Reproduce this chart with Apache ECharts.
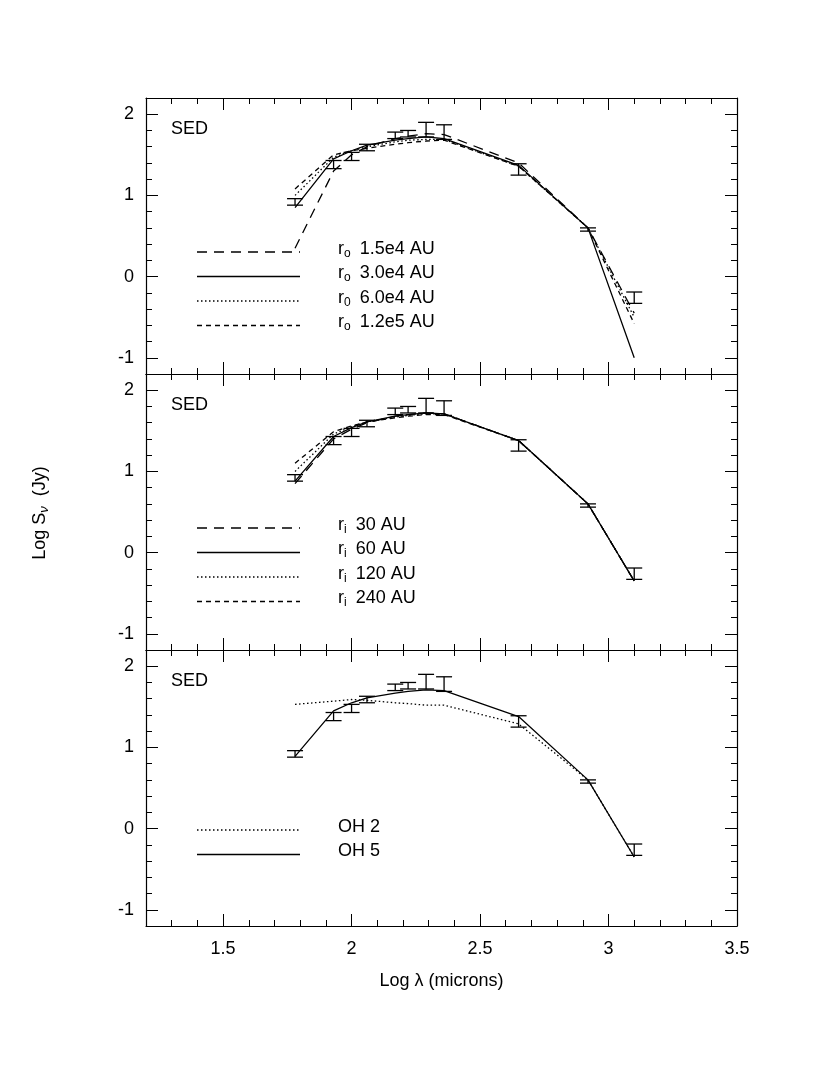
<!DOCTYPE html><html><head><meta charset="utf-8">
<script src="https://cdn.jsdelivr.net/npm/echarts@6/dist/echarts.min.js"></script>
<style>html,body{margin:0;background:#fff}#c{width:830px;height:1075px}</style></head><body><div id="c"></div>
<script>
const wl=[1.78,1.93,2.0,2.06,2.17,2.22,2.29,2.36,2.65,2.92,3.10];
const obs=[0.92,1.38,1.48,1.59,1.74,1.76,1.81,1.78,1.32,0.58,-0.26];
const err=[0.04,0.05,0.05,0.04,0.04,0.04,0.09,0.09,0.07,0.02,0.07];
const ro15=[0.35,1.30,1.50,1.60,1.70,1.73,1.76,1.75,1.40,0.60,-0.45];
const ro30=[0.85,1.45,1.55,1.62,1.68,1.70,1.72,1.70,1.37,0.60,-1.00];
const ro60=[1.00,1.47,1.55,1.60,1.66,1.68,1.69,1.69,1.36,0.60,-0.50];
const ro120=[1.08,1.50,1.55,1.58,1.63,1.65,1.67,1.68,1.36,0.60,-0.58];
const ri30=[0.85,1.40,1.52,1.60,1.68,1.70,1.72,1.71,1.38,0.60,-0.35];
const ri60=[0.88,1.43,1.54,1.61,1.68,1.70,1.72,1.71,1.38,0.60,-0.35];
const ri120=[1.00,1.46,1.55,1.61,1.67,1.69,1.71,1.71,1.38,0.60,-0.35];
const ri240=[1.10,1.49,1.56,1.61,1.66,1.68,1.70,1.70,1.38,0.60,-0.35];
const oh2=[1.53,1.57,1.59,1.58,1.55,1.54,1.52,1.52,1.29,0.60,-0.35];
const oh5=[0.89,1.45,1.55,1.61,1.67,1.69,1.71,1.70,1.38,0.60,-0.35];
const xMajor=[1.5,2,2.5,3,3.5], yMajor=[-1,0,1,2];
const panels=[
 {models:[ro15,ro30,ro60,ro120],styles:['long','solid','dot','short'],
  labels:[['o','1.5e4 AU'],['o','3.0e4 AU'],['0','6.0e4 AU'],['o','1.2e5 AU']]},
 {models:[ri30,ri60,ri120,ri240],styles:['long','solid','dot','short'],
  labels:[['i','30 AU'],['i','60 AU'],['i','120 AU'],['i','240 AU']]},
 {models:[oh2,oh5],styles:['dot','solid'],labels:[[null,'OH 2'],[null,'OH 5']]}
];
const dash={long:[10,7],solid:'solid',dot:[1.5,2.5],short:[5,4]};
const FONT='Liberation Sans';
const L=146,W=591,H=276,tops=[98,374,650];
const grid=[],xAxis=[],yAxis=[],series=[],graphic=[];
panels.forEach((p,i)=>{
  grid.push({left:L,top:tops[i],width:W,height:H});
  const base={type:'value',min:1.2,max:3.5,gridIndex:i,splitLine:{show:false},
    axisLine:{show:true,onZero:false,lineStyle:{color:'#000',width:1.2}}};
  ['bottom','top'].forEach(pos=>{
    xAxis.push(Object.assign({},base,{position:pos,interval:0.1,axisTick:{inside:true,length:6,lineStyle:{color:'#000'}},axisLabel:{show:false}}));
    xAxis.push(Object.assign({},base,{position:pos,axisLine:{show:false,onZero:false},
      axisTick:{inside:true,length:12,customValues:xMajor,lineStyle:{color:'#000'}},
      axisLabel:{show:pos==='bottom'&&i===2,customValues:xMajor,margin:14,fontSize:18,color:'#000',fontFamily:FONT},
      name:(pos==='bottom'&&i===2)?'Log λ (microns)':'',nameLocation:'middle',nameGap:46,
      nameTextStyle:{fontSize:18,color:'#000',fontFamily:FONT}}));
  });
  const yb={type:'value',min:-1.2,max:2.2,gridIndex:i,splitLine:{show:false},
    axisLine:{show:true,onZero:false,lineStyle:{color:'#000',width:1.2}}};
  ['left','right'].forEach(pos=>{
    yAxis.push(Object.assign({},yb,{position:pos,interval:0.2,axisTick:{inside:true,length:6,lineStyle:{color:'#000'}},axisLabel:{show:false}}));
    yAxis.push(Object.assign({},yb,{position:pos,axisLine:{show:false,onZero:false},
      axisTick:{inside:true,length:12,customValues:yMajor,lineStyle:{color:'#000'}},
      axisLabel:{show:pos==='left',customValues:yMajor,margin:12,fontSize:18,color:'#000',fontFamily:FONT}}));
  });
  const xi=i*4+1, yi=i*4+1;
  p.models.forEach((m,k)=>{
    series.push({type:'line',xAxisIndex:xi,yAxisIndex:yi,symbol:'none',animation:false,
      data:wl.map((x,j)=>[x,m[j]]),lineStyle:{color:'#000',width:1.3,type:dash[p.styles[k]]}});
  });
  series.push({type:'custom',xAxisIndex:xi,yAxisIndex:yi,animation:false,
    data:wl.map((x,j)=>[x,obs[j]-err[j],obs[j]+err[j]]),
    renderItem:(params,api)=>{
      const lo=api.coord([api.value(0),api.value(1)]),hi=api.coord([api.value(0),api.value(2)]);
      const c=8,s={stroke:'#000',lineWidth:1.3};
      return {type:'group',children:[
        {type:'line',shape:{x1:lo[0],y1:lo[1],x2:hi[0],y2:hi[1]},style:s},
        {type:'line',shape:{x1:lo[0]-c,y1:lo[1],x2:lo[0]+c,y2:lo[1]},style:s},
        {type:'line',shape:{x1:hi[0]-c,y1:hi[1],x2:hi[0]+c,y2:hi[1]},style:s}]};
    }});
  graphic.push({type:'text',left:171,top:tops[i]+22,style:{text:'SED',fontSize:18,fill:'#000',fontFamily:FONT}});
  const ly0=[252,528,830][i];
  p.labels.forEach((lb,k)=>{
    const y=ly0+k*24.5;
    const d=dash[p.styles[k]];
    graphic.push({type:'line',shape:{x1:197,y1:y,x2:300,y2:y},style:{stroke:'#000',lineWidth:1.3,lineDash:d==='solid'?null:d}});
    graphic.push({type:'text',left:338,top:y-12,style:{
      text:lb[0]?`{r|r}{s|${lb[0]}}{t|${lb[1]}}`:`{t|${lb[1]}}`,
      rich:{r:{fontSize:18,fontFamily:FONT,fill:'#000'},s:{fontSize:12,fontFamily:FONT,fill:'#000',padding:[9,0,0,0]},
            t:{fontSize:18,fontFamily:FONT,fill:'#000',padding:[0,0,0,lb[0]?9:0]}}}});
  });
});
graphic.push({type:'text',x:40,y:513,rotation:Math.PI/2,style:{
  text:'{a|Log S}{b|ν}{a|  (Jy)}',align:'center',verticalAlign:'middle',
  rich:{a:{fontSize:18,fontFamily:FONT,fill:'#000'},b:{fontSize:13,fontFamily:FONT,fill:'#000',fontStyle:'italic',padding:[8,0,0,0]}}}});
const chart=echarts.init(document.getElementById('c'));
chart.setOption({animation:false,grid,xAxis,yAxis,series,graphic});
</script></body></html>
